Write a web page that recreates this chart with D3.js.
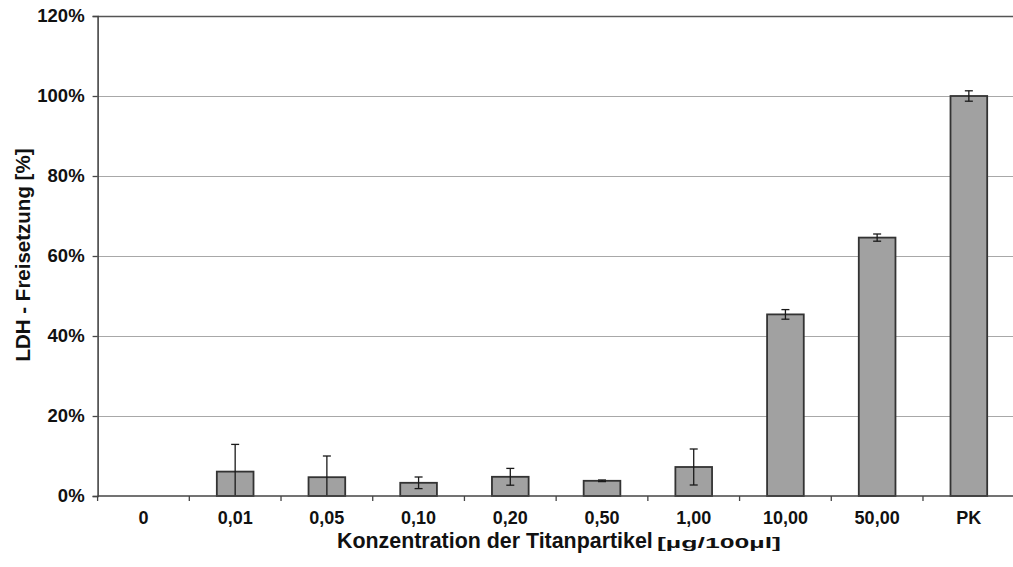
<!DOCTYPE html>
<html>
<head>
<meta charset="utf-8">
<script src="https://cdn.jsdelivr.net/npm/d3@7"></script>
<style>
  html, body { margin: 0; padding: 0; background: #fff; }
  svg { display: block; }
  text { font-family: "Liberation Sans", Arial, sans-serif; font-weight: bold; fill: #111; }
</style>
</head>
<body>
<svg id="chart" width="1013" height="567"></svg>
<script>
// LDH release per titanium particle concentration (mean with standard deviation)
const categories = ["0", "0,01", "0,05", "0,10", "0,20", "0,50", "1,00", "10,00", "50,00", "PK"];
const ldhRelease = [0, 6.1, 4.7, 3.3, 4.8, 3.8, 7.25, 45.4, 64.6, 100];
const ldhError   = [0, 6.8, 5.3, 1.45, 2.1, 0.2, 4.5, 1.2, 0.9, 1.3];
const yTicks = [0, 20, 40, 60, 80, 100, 120];

const svg = d3.select("#chart");
const plotLeft = 97.6, plotRight = 1014.7, plotTop = 16, plotBottom = 496;

const x = d3.scaleBand().domain(categories).range([plotLeft, plotRight]).padding(0);
const y = d3.scaleLinear().domain([0, 120]).range([plotBottom, plotTop]);

// horizontal gridlines
svg.append("g").selectAll("line")
  .data(yTicks.filter(t => t > 0 && t < 120))
  .join("line")
  .attr("x1", plotLeft).attr("x2", 1013)
  .attr("y1", d => Math.round(y(d)) + 0.5).attr("y2", d => Math.round(y(d)) + 0.5)
  .attr("stroke", "#a8a8a8").attr("stroke-width", 1.2);

// top border of the plot area
svg.append("line")
  .attr("x1", plotLeft).attr("x2", 1013)
  .attr("y1", y(120) + 0.5).attr("y2", y(120) + 0.5)
  .attr("stroke", "#555").attr("stroke-width", 1.6);

// bars
const data = categories.map((c, i) => ({ c, v: ldhRelease[i], e: ldhError[i] }));
const barW = x.bandwidth() * 0.4;
svg.append("g").selectAll("rect")
  .data(data.filter(d => d.v > 0))
  .join("rect")
  .attr("x", d => x(d.c) + (x.bandwidth() - barW) / 2)
  .attr("y", d => y(d.v))
  .attr("width", barW)
  .attr("height", d => y(0) - y(d.v))
  .attr("fill", "#a1a1a1")
  .attr("stroke", "#333")
  .attr("stroke-width", 1.8);

// error bars
const capW = 8;
const eb = svg.append("g").attr("stroke", "#1a1a1a").attr("stroke-width", 1.3);
data.filter(d => d.e > 0).forEach(d => {
  const cx = x(d.c) + x.bandwidth() / 2;
  const hi = d.v + d.e;
  const lo = Math.max(0, d.v - d.e);
  eb.append("line").attr("x1", cx).attr("x2", cx).attr("y1", y(hi)).attr("y2", y(lo));
  eb.append("line").attr("x1", cx - capW / 2).attr("x2", cx + capW / 2).attr("y1", y(hi)).attr("y2", y(hi));
  if (d.v - d.e > 0) {
    eb.append("line").attr("x1", cx - capW / 2).attr("x2", cx + capW / 2).attr("y1", y(lo)).attr("y2", y(lo));
  }
});

// y axis
const yAxis = svg.append("g")
  .attr("transform", `translate(${plotLeft},0)`)
  .call(d3.axisLeft(y).tickValues(yTicks).tickSize(5).tickPadding(8).tickFormat(d => d + "%"));
yAxis.select(".domain").attr("stroke", "#444").attr("stroke-width", 1.6);
yAxis.selectAll(".tick line").attr("stroke", "#444").attr("stroke-width", 1.3);
yAxis.selectAll(".tick text")
  .style("font-family", "'Liberation Sans', Arial, sans-serif")
  .style("font-weight", "bold").style("font-size", "18.5px").attr("fill", "#111");

// x axis: ticks at category boundaries
const xAxis = svg.append("g").attr("transform", `translate(0,${plotBottom})`);
xAxis.append("line").attr("x1", plotLeft).attr("x2", 1013).attr("y1", 0).attr("y2", 0)
  .attr("stroke", "#444").attr("stroke-width", 1.6);
xAxis.selectAll("line.tick")
  .data(categories)
  .join("line").attr("class", "tick")
  .attr("x1", d => x(d)).attr("x2", d => x(d))
  .attr("y1", 0).attr("y2", 5)
  .attr("stroke", "#444").attr("stroke-width", 1.3);
xAxis.selectAll("text")
  .data(categories)
  .join("text")
  .attr("x", d => x(d) + x.bandwidth() / 2)
  .attr("y", 28)
  .attr("text-anchor", "middle")
  .style("font-size", "18px")
  .text(d => d);

// axis titles
svg.append("text")
  .attr("transform", "translate(30,255) rotate(-90)")
  .attr("text-anchor", "middle")
  .style("font-size", "20.5px")
  .text("LDH - Freisetzung [%]");

svg.append("text")
  .attr("x", 337).attr("y", 548)
  .style("font-size", "21.4px")
  .text("Konzentration der Titanpartikel");
svg.append("text")
  .attr("x", 657).attr("y", 548)
  .style("font-size", "15px")
  .attr("textLength", 124)
  .attr("lengthAdjust", "spacingAndGlyphs")
  .text("[µg/100µl]");
</script>
</body>
</html>
